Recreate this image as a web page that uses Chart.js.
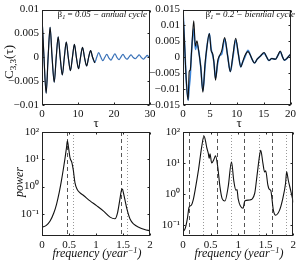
<!DOCTYPE html>
<html>
<head>
<meta charset="utf-8">
<script src="https://cdn.jsdelivr.net/npm/chart.js@4.4.0/dist/chart.umd.min.js"></script>
<style>
html, body { margin: 0; padding: 0; background: #fff; }
#wrap { position: relative; width: 299px; height: 261px; overflow: hidden; font-family: "Liberation Serif", serif; color: #111; }
canvas { position: absolute; left: 0; top: 0; }
.lbl { position: absolute; white-space: nowrap; line-height: 1; }
.lbl sub { font-size: 70%; vertical-align: -0.3em; }
.lbl sup { font-size: 70%; vertical-align: 0.5em; }
.c { transform: translate(-50%, -50%); }
.rot { transform: translate(-50%, -50%) rotate(-90deg); }
</style>
</head>
<body>
<div id="wrap">
  <canvas id="c1" width="299" height="261"></canvas>
  <canvas id="c2" width="299" height="261"></canvas>
  <canvas id="c3" width="299" height="261"></canvas>
  <canvas id="c4" width="299" height="261"></canvas>

  <div class="lbl rot" style="left:10px;top:62px;font-size:13px">C<sub>3,3</sub>(τ)</div>
  <div class="lbl rot" style="left:19px;top:182px;font-size:12px"><i>power</i></div>
  <div class="lbl c" style="left:96px;top:122px;font-size:13px">τ</div>
  <div class="lbl c" style="left:239px;top:122px;font-size:13px">τ</div>
  <div class="lbl c" style="left:97px;top:253px;font-size:12px"><i>frequency (year<sup>−1</sup>)</i></div>
  <div class="lbl c" style="left:239px;top:253px;font-size:12px"><i>frequency (year<sup>−1</sup>)</i></div>
  <div class="lbl" style="right:152px;top:10px;font-size:9px">β<sub><i>1</i></sub> = <i>0.05 − annual cycle</i></div>
  <div class="lbl" style="right:4px;top:10px;font-size:9px">β<sub><i>1</i></sub> = <i>0.2 − biennial cycle</i></div>
</div>

<script>
// autocorrelation, annual case (beta1 = 0.05)
const annualTau = [0, 0.55, 1.15, 1.7, 2.25, 2.8, 3.4, 3.95, 4.5, 5.05, 5.65, 6.2, 6.75, 7.3, 7.9, 8.45,
  9.0, 9.55, 10.15, 10.7, 11.25, 11.8, 12.4, 12.95, 13.5, 14.05, 14.65, 15.2, 15.75, 16.3, 16.9, 17.45,
  18.0, 18.55, 19.15, 19.7, 20.25, 20.8, 21.4, 21.95, 22.5, 23.05, 23.65, 24.2, 24.75, 25.3, 25.9, 26.45,
  27.0, 27.55, 28.15, 28.7, 29.25, 29.8, 30];
const annualTheory = [0.0086, 0, -0.0075, 0, 0.0063, 0, -0.0052, 0, 0.0043, 0, -0.0037, 0, 0.0032, 0, -0.0028, 0,
  0.0027, 0, -0.0024, 0, 0.0021, 0, -0.0018, 0, 0.0014, 0, -0.0011, 0, 0.0009, 0, -0.0008, 0,
  0.0007, 0, -0.0006, 0, 0.0006, 0, -0.0005, 0, 0.0005, 0, -0.0005, 0, 0.0005, 0, -0.0004, 0,
  0.0004, 0, -0.0004, 0, 0.0004, 0, -0.0001];
const annualSim = [0.0086, 0, -0.0075, 0, 0.0063, 0, -0.0052, 0, 0.0043, 0, -0.0037, 0, 0.0032, 0, -0.0028, 0,
  0.0027, 0, -0.0024, 0, 0.0021, 0, -0.0018, 0, 0.0014, 0, -0.0011, 0, 0.0010, 0.0001, -0.0007, 0,
  0.0006, -0.0001, -0.0006, 0.0001, 0.0007, 0, -0.0005, 0.0001, 0.0006, 0, -0.0004, 0.0001, 0.0005, 0, -0.0003, 0.0001,
  0.0005, 0, -0.0004, 0, 0.0004, 0, 0.0002];
const annualTheoryEnd = 14.7;
const annualTauTicks = [0, 10, 20, 30];
const annualYTicks = [-0.01, -0.005, 0, 0.005, 0.01];
const annualYLabels = ['−0.01', '−0.005', '0', '0.005', '0.01'];

// autocorrelation, biennial case (beta1 = 0.2)
const biennialTau = [0, 0.3, 0.6, 0.95, 1.15, 1.35, 1.6, 2.0, 2.3, 2.6, 2.9, 3.3, 3.7, 4.1, 4.4, 4.9, 5.25, 5.5, 5.75, 6.05,
  6.45, 6.8, 7.2, 7.75, 8.3, 8.8, 9.3, 9.8, 10.3, 10.75, 11.1, 11.5, 12.1, 12.5, 12.9, 13.3, 13.8, 14.4, 15.1, 15.5,
  16.0, 16.5, 17.2, 17.6, 18.1, 18.5, 18.85, 19.3, 19.7, 20];
const biennialTheory = [0.0148, 0.004, -0.007, -0.0135, -0.0045, -0.004, 0.002, 0.0115, 0.0035, 0.0052, 0.0022, -0.003, -0.011, -0.002, 0.0025, 0.0075, 0.002, 0.0012, -0.0015, -0.0072,
  -0.0012, 0.0005, 0.002, 0.0062, 0.0005, -0.0045, 0.0008, 0.006, 0.001, -0.003, -0.0015, 0.0005, 0.0018, 0.0008, -0.0008, -0.0018, -0.0006, 0.0004, 0.0015, 0.0003,
  -0.001, -0.0004, -0.0006, 0.0004, 0.002, 0.0002, -0.0009, -0.0004, 0.0004, 0.0009];
const biennialSim = [0.0148, 0.004, -0.007, -0.0135, -0.0095, -0.006, 0.002, 0.009, 0.0025, 0.004, 0.0022, -0.003, -0.0105, -0.003, 0.0025, 0.0075, 0.0025, 0.0008, -0.0015, -0.0065,
  -0.002, 0.0005, 0.001, 0.0058, 0.0005, -0.0045, 0.0002, 0.0055, 0.001, -0.003, -0.0015, 0, 0.0022, 0.0008, -0.0008, -0.0018, -0.0006, 0.0004, 0.0013, 0.0003,
  -0.001, -0.0004, -0.0006, 0.0004, 0.0017, 0.0002, -0.0009, -0.0004, 0.0004, 0.0009];
const biennialTauTicks = [0, 5, 10, 15, 20];
const biennialYTicks = [-0.015, -0.01, -0.005, 0, 0.005, 0.01, 0.015];
const biennialYLabels = ['−0.015', '−0.01', '−0.005', '0', '0.005', '0.01', '0.015'];

// power spectra
const annualFreq = [0, 0.08, 0.15, 0.22, 0.27, 0.32, 0.36, 0.40, 0.43, 0.455, 0.47, 0.49, 0.52, 0.55, 0.58, 0.61, 0.65, 0.7, 0.77, 0.89,
  1.01, 1.14, 1.26, 1.35, 1.40, 1.44, 1.47, 1.49, 1.51, 1.54, 1.57, 1.63, 1.7, 1.8, 1.9, 2.0];
const annualPower = [0.032, 0.038, 0.055, 0.11, 0.23, 0.63, 1.66, 5.0, 12.3, 28, 48, 28, 11, 8, 4, 1.4, 0.8, 0.6, 0.47, 0.30,
  0.20, 0.126, 0.076, 0.066, 0.112, 0.32, 0.71, 0.81, 0.56, 0.30, 0.158, 0.065, 0.042, 0.032, 0.027, 0.024];
const annualDashed = [0.47, 1.47];
const annualDotted = [0.57, 1.57];

const biennialFreq = [0, 0.04, 0.08, 0.11, 0.15, 0.19, 0.22, 0.28, 0.34, 0.38, 0.41, 0.43, 0.46, 0.475, 0.49, 0.52, 0.56, 0.59, 0.63, 0.67,
  0.71, 0.76, 0.82, 0.88, 0.92, 0.96, 0.98, 1.0, 1.09, 1.12, 1.21, 1.3, 1.34, 1.39, 1.41, 1.45, 1.48, 1.5, 1.54, 1.57,
  1.59, 1.64, 1.68, 1.75, 1.81, 1.86, 1.88, 1.91, 1.96, 2.0];
const biennialPower = [0.062, 0.079, 0.166, 0.38, 0.44, 0.71, 1.35, 5.9, 34, 74, 50, 32, 20, 14, 20, 10, 13, 17, 7.6, 1.74,
  0.72, 0.60, 1.74, 11, 2.8, 1.35, 1.4, 0.72, 0.35, 0.60, 0.65, 1.05, 3.6, 18, 26, 9.8, 5.2, 5.6, 1.95, 1.4,
  1.35, 0.30, 0.21, 0.30, 0.72, 2.2, 5.2, 2.8, 1.17, 0.56];
const biennialDashed = [0.11, 0.61, 1.11, 1.61];
const biennialDotted = [0.37, 0.87, 1.37, 1.87];

const freqTicks = [0, 0.5, 1, 1.5, 2];
const freqLabels = ['0', '0.5', '1', '1.5', '2'];
const powerTicks = [0.1, 1, 10, 100];
const powerLabels = ['10⁻¹', '10⁰', '10¹', '10²'];

const W = 299, H = 261;
const tickFont = { family: "'Liberation Serif', serif", size: 11 };

// frame, inward ticks and reference lines, matlab style
const frame = {
  id: 'frame',
  beforeDatasetsDraw(chart, args, opts) {
    const { ctx, chartArea: a } = chart, x = chart.scales.x;
    ctx.save();
    ctx.lineWidth = 1;
    const vlines = (vals, dash, color) => vals.forEach(v => {
      const px = Math.round(x.getPixelForValue(v)) + 0.5;
      ctx.strokeStyle = color;
      ctx.setLineDash(dash);
      ctx.beginPath();
      ctx.moveTo(px, a.top);
      ctx.lineTo(px, a.bottom);
      ctx.stroke();
    });
    vlines(opts.dashed || [], [4, 3], '#555');
    vlines(opts.dotted || [], [1, 2], '#999');
    ctx.restore();
  },
  afterDatasetsDraw(chart) {
    const { ctx, chartArea: a, scales: { x, y } } = chart;
    const L = Math.round(a.left) + 0.5, R = Math.round(a.right) - 0.5;
    const T = Math.round(a.top) + 0.5, B = Math.round(a.bottom) - 0.5;
    ctx.save();
    ctx.strokeStyle = '#222';
    ctx.lineWidth = 1;
    ctx.strokeRect(L, T, R - L, B - T);
    ctx.beginPath();
    x.ticks.forEach(t => {
      const p = Math.round(x.getPixelForValue(t.value)) + 0.5;
      ctx.moveTo(p, B); ctx.lineTo(p, B - 2);
      ctx.moveTo(p, T); ctx.lineTo(p, T + 2);
    });
    y.ticks.forEach(t => {
      const p = Math.round(y.getPixelForValue(t.value)) + 0.5;
      ctx.moveTo(L, p); ctx.lineTo(L + 2, p);
      ctx.moveTo(R, p); ctx.lineTo(R - 2, p);
    });
    ctx.stroke();
    ctx.restore();
  }
};

function xAxis(max, vals, labels) {
  return {
    type: 'linear', min: 0, max: max,
    grid: { display: false, drawTicks: false }, border: { display: false },
    ticks: { font: tickFont, color: '#111', padding: 3, maxRotation: 0, autoSkip: false,
      callback: (v, i) => labels ? labels[i] : String(v) },
    afterBuildTicks: s => { s.ticks = vals.map(v => ({ value: v })); },
    afterFit: s => { s.height = 20; }
  };
}

function yAxis(type, min, max, vals, labels, width) {
  return {
    type: type, min: min, max: max, bounds: 'data',
    grid: { display: false, drawTicks: false }, border: { display: false },
    ticks: { font: tickFont, color: '#111', padding: 3, autoSkip: false, callback: (v, i) => labels[i] },
    afterBuildTicks: s => { s.ticks = vals.map(v => ({ value: v })); },
    afterFit: s => { s.width = width; }
  };
}

function pts(xs, ys) {
  return xs.map((x, i) => ({ x: x, y: ys[i] }));
}

function line(data, color, width) {
  return { data: data, borderColor: color, borderWidth: width, pointRadius: 0, fill: false };
}

function makePanel(id, area, datasets, xScale, yScale, marks) {
  return new Chart(document.getElementById(id), {
    type: 'line',
    data: { datasets: datasets },
    options: {
      responsive: false,
      animation: false,
      events: [],
      layout: { padding: { left: 0, top: area.t, right: W - area.r, bottom: H - area.b - 20 } },
      elements: { line: { cubicInterpolationMode: 'monotone', borderJoinStyle: 'round', borderCapStyle: 'round' } },
      plugins: { legend: { display: false }, tooltip: { enabled: false }, frame: marks || {} },
      scales: { x: xScale, y: yScale }
    },
    plugins: [frame]
  });
}

const leftArea1 = { l: 42, t: 5, r: 150, b: 105 };
const rightArea1 = { l: 183, t: 5, r: 295, b: 105 };
const leftArea2 = { l: 42, t: 132, r: 150, b: 236 };
const rightArea2 = { l: 183, t: 132, r: 295, b: 236 };

const annualBlack = pts(annualTau, annualTheory).filter(p => p.x <= annualTheoryEnd);

makePanel('c1', leftArea1,
  [line(annualBlack, '#111', 1.1), line(pts(annualTau, annualSim), '#3a72b8', 1.2)],
  xAxis(30, annualTauTicks),
  yAxis('linear', -0.01, 0.01, annualYTicks, annualYLabels, leftArea1.l));

makePanel('c2', rightArea1,
  [line(pts(biennialTau, biennialTheory), '#111', 1.1), line(pts(biennialTau, biennialSim), '#3d85d8', 1.6)],
  xAxis(20, biennialTauTicks),
  yAxis('linear', -0.015, 0.015, biennialYTicks, biennialYLabels, rightArea1.l));

makePanel('c3', leftArea2,
  [line(pts(annualFreq, annualPower), '#111', 1.1)],
  xAxis(2, freqTicks, freqLabels),
  yAxis('logarithmic', 0.0155, 100, powerTicks, powerLabels, leftArea2.l),
  { dashed: annualDashed, dotted: annualDotted });

makePanel('c4', rightArea2,
  [line(pts(biennialFreq, biennialPower), '#111', 1.1)],
  xAxis(2, freqTicks, freqLabels),
  yAxis('logarithmic', 0.045, 100, powerTicks, powerLabels, rightArea2.l),
  { dashed: biennialDashed, dotted: biennialDotted });
</script>
</body>
</html>
